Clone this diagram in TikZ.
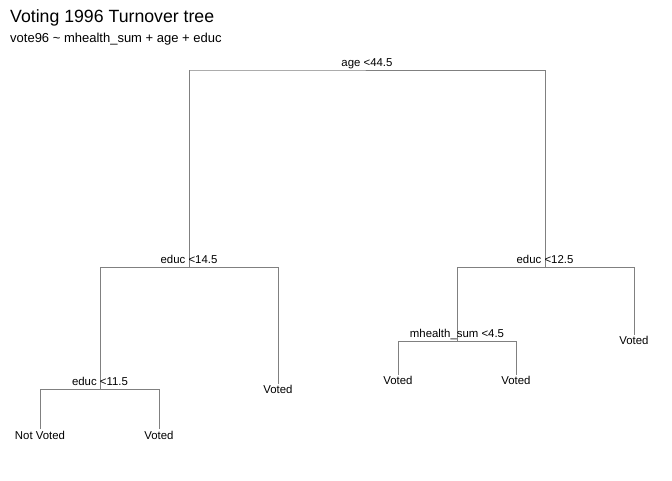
\documentclass[tikz,border=0pt]{standalone}
\usepackage{fontspec}
\setmainfont{Liberation Sans}
\begin{document}
\begin{tikzpicture}[x=1pt,y=-1pt,
  edge/.style={draw=black!50,line width=1pt},
  split/.style={anchor=base,inner sep=0pt,font=\fontsize{11.4}{13}\selectfont},
  leaf/.style={anchor=base,inner sep=0pt,font=\fontsize{11.4}{13}\selectfont},
  ttl/.style={anchor=base west,inner sep=0pt,font=\fontsize{17.7}{21}\selectfont},
  sub/.style={anchor=base west,inner sep=0pt,font=\fontsize{13}{15}\selectfont}]
\useasboundingbox (0,0) rectangle (672,480);
\node[ttl] (title) at (10,22) {Voting 1996 Turnover tree};
\node[sub] (subtitle) at (10,42) {vote96 \textasciitilde{} mhealth\_sum + age + educ};
% split points
\coordinate (r) at (367,70);
\coordinate (rl) at (190,70);
\coordinate (rr) at (545,70);
\coordinate (a) at (189,267);
\coordinate (al) at (100,267);
\coordinate (ar) at (278,267);
\coordinate (b) at (545,267);
\coordinate (bl) at (457,267);
\coordinate (br) at (634,267);
\coordinate (c) at (100,389);
\coordinate (cl) at (40,389);
\coordinate (cr) at (159,389);
\coordinate (d) at (457,341);
\coordinate (dl) at (398,341);
\coordinate (dr) at (516,341);
% leaves ends
\coordinate (l1) at (40,429);
\coordinate (l2) at (159,429);
\coordinate (l3) at (278,384);
\coordinate (l4) at (398,375);
\coordinate (l5) at (516,375);
\coordinate (l6) at (634,335);
% edges
\draw[edge] (a) |- (rl) -- (rr) -- (b);
\draw[edge] (c) |- (al) -- (ar) -- (l3);
\draw[edge] (d) |- (bl) -- (br) -- (l6);
\draw[edge] (l1) -- (cl) -- (cr) -- (l2);
\draw[edge] (l4) -- (dl) -- (dr) -- (l5);
% split labels
\node[split] (sr) at (367,66) {age <44.5};
\node[split] (sa) at (189,263) {educ <14.5};
\node[split] (sb) at (545,263) {educ <12.5};
\node[split] (sc) at (100,385) {educ <11.5};
\node[split] (sd) at (457,337) {mhealth\_sum <4.5};
% leaf labels
\node[leaf] (n1) at (40,439) {Not Voted};
\node[leaf] (n2) at (159,439) {Voted};
\node[leaf] (n3) at (278,393) {Voted};
\node[leaf] (n4) at (398,384) {Voted};
\node[leaf] (n5) at (516,384) {Voted};
\node[leaf] (n6) at (634,344) {Voted};
\end{tikzpicture}
\end{document}
